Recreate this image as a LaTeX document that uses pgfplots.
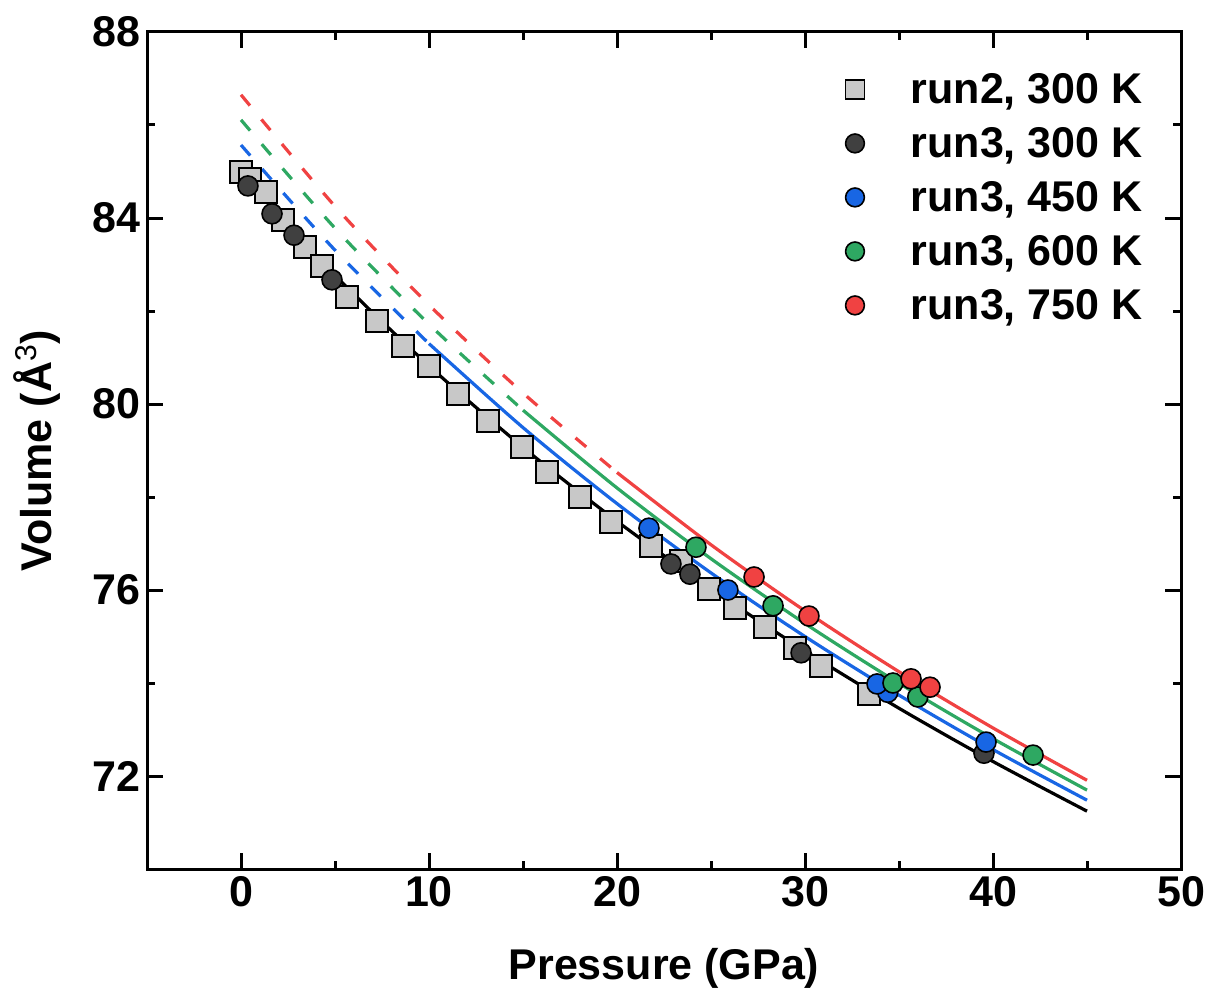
\documentclass[border=0pt]{standalone}
\usepackage{pgfplots}
\pgfplotsset{compat=1.18}
\usepackage{fontspec}
\setmainfont{Liberation Sans}
\definecolor{sqgray}{RGB}{200,200,200}
\definecolor{dkgray}{RGB}{64,64,64}
\definecolor{myblue}{RGB}{24,102,228}
\definecolor{mygreen}{RGB}{46,168,98}
\definecolor{myred}{RGB}{240,66,66}
\newcommand{\bigfont}{\fontsize{21.5bp}{25bp}\selectfont\bfseries}
\begin{document}
\begin{tikzpicture}
\begin{axis}[name=ax, at={(0,0)}, anchor=south west,
  width=517bp, height=418.5bp, scale only axis,
  xmin=-5, xmax=50, ymin=70, ymax=88,
  xtick={0,10,...,50}, ytick={72,76,...,88},
  minor x tick num=1, minor y tick num=1,
  tick align=inside, major tick length=8bp, minor tick length=4bp,
  axis line style={line width=1.5bp},
  every tick/.append style={line width=1.5bp, black},
  tick label style={font=\bigfont},
  /pgf/number format/assume math mode=true,
  label style={font=\bigfont},
  xlabel={Pressure (GPa)},
  ylabel={Volume (Å\textsuperscript{\mdseries 3})},
  xlabel style={at={(axis description cs:0.5,-0.1183)}, anchor=center},
  ylabel style={at={(axis description cs:-0.1064,0.5)}, anchor=center},
  legend style={draw=none, fill=none, inner sep=0pt,
    at={(axis description cs:1,1)}, anchor=north east,
    xshift=-19bp, yshift=-19.5bp, font=\bigfont, row sep=0pt,
    nodes={inner sep=0pt, text height=16bp, text depth=11bp}},
  legend cell align=left,
  legend image code/.code={\draw[#1, mark size=4.7bp] plot coordinates {(0bp,4.5bp)}; \path (27.5bp,0bp);},
]
% run2, 300 K
\addplot[only marks, mark=square*, mark size=5.5bp, draw=black, fill=sqgray, line width=0.8bp]
 coordinates {(0,84.99)(0.48,84.84)(1.33,84.56)(2.23,83.96)(3.40,83.38)(4.31,82.97)
 (5.64,82.30)(7.23,81.78)(8.62,81.25)(10.0,80.82)(11.54,80.22)(13.14,79.63)(14.95,79.08)
 (16.28,78.54)(18.03,78.0)(19.68,77.46)(21.81,76.95)(23.4,76.62)(24.89,76.02)(26.28,75.61)
 (27.87,75.20)(29.47,74.75)(30.85,74.37)(33.40,73.76)};
\addlegendentry{run2, 300 K}
% run3, 300 K
\addplot[only marks, mark=*, mark size=5bp, draw=black, fill=dkgray, line width=0.8bp]
 coordinates {(0.37,84.69)(1.65,84.09)(2.82,83.63)(4.84,82.67)(22.87,76.56)(23.88,76.34)
 (29.79,74.65)(39.52,72.49)};
\addlegendentry{run3, 300 K}
% run3, 450 K
\addplot[only marks, mark=*, mark size=5bp, draw=black, fill=myblue, line width=0.8bp]
 coordinates {(21.70,77.33)(25.90,76.0)(34.4,73.80)(33.83,73.98)(39.63,72.73)};
\addlegendentry{run3, 450 K}
% run3, 600 K
\addplot[only marks, mark=*, mark size=5bp, draw=black, fill=mygreen, line width=0.8bp]
 coordinates {(24.20,76.92)(28.30,75.66)(34.68,74.0)(36.0,73.70)(42.13,72.45)};
\addlegendentry{run3, 600 K}
% run3, 750 K
\addplot[only marks, mark=*, mark size=5bp, draw=black, fill=myred, line width=0.8bp]
 coordinates {(27.29,76.28)(30.21,75.44)(35.64,74.09)(36.65,73.91)};
\addlegendentry{run3, 750 K}
% fitted curves
\addplot[black, line width=1.6bp, smooth, forget plot] coordinates {
 (0,84.95)(5,82.768)(10,80.822)(15,79.069)(20,77.479)(25,76.026)(30,74.691)
 (35,73.457)(40,72.312)(45,71.244)};
\addplot[myblue, line width=1.6bp, smooth, dash pattern=on 7bp off 9bp, forget plot] coordinates {
 (0,85.57)(5,83.308)(10,81.298)};
\addplot[myblue, line width=1.6bp, smooth, forget plot] coordinates {
 (10,81.298)(15,79.493)(20,77.858)(25,76.368)(30,75.000)(35,73.739)(40,72.569)(45,71.480)};
\addplot[mygreen, line width=1.6bp, smooth, dash pattern=on 7bp off 9bp, forget plot] coordinates {
 (0,86.11)(5,83.781)(10,81.716)(15,79.867)};
\addplot[mygreen, line width=1.6bp, smooth, forget plot] coordinates {
 (15,79.867)(20,78.195)(25,76.673)(30,75.279)(35,73.994)(40,72.804)(45,71.697)};
\addplot[myred, line width=1.6bp, smooth, dash pattern=on 7bp off 9bp, forget plot] coordinates {
 (0,86.65)(5,84.252)(10,82.131)(15,80.236)(20,78.527)};
\addplot[myred, line width=1.6bp, smooth, forget plot] coordinates {
 (20,78.527)(25,76.973)(30,75.551)(35,74.243)(40,73.033)(45,71.908)};
\end{axis}
\pgfresetboundingbox
\path ([xshift=-73.5bp,yshift=-62bp]ax.south west) rectangle ([xshift=15.5bp,yshift=16bp]ax.north east);
\end{tikzpicture}
\end{document}
